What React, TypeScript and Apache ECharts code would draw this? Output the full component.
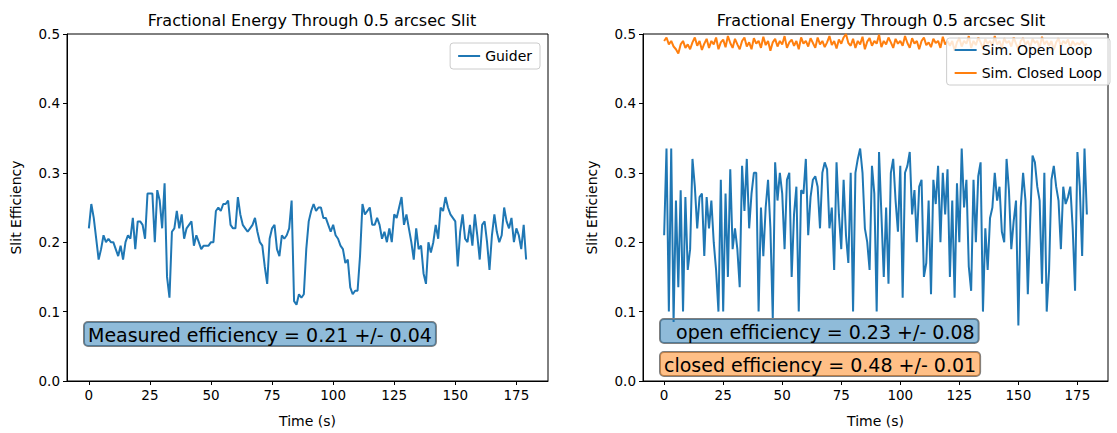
import React, { useEffect, useRef } from "react";
import * as echarts from "echarts";

const guider = [0.22,0.255,0.235,0.205,0.175,0.19,0.21,0.2,0.205,0.2,0.2,0.19,0.18,0.195,0.175,0.2,0.21,0.205,0.235,0.19,0.23,0.23,0.225,0.205,0.27,0.27,0.27,0.2,0.275,0.26,0.22,0.285,0.15,0.12,0.215,0.22,0.245,0.22,0.24,0.205,0.22,0.225,0.23,0.195,0.21,0.2,0.19,0.195,0.195,0.195,0.2,0.2,0.245,0.25,0.245,0.255,0.255,0.26,0.225,0.22,0.22,0.265,0.24,0.225,0.22,0.215,0.22,0.225,0.235,0.215,0.2,0.195,0.165,0.14,0.205,0.22,0.225,0.19,0.18,0.21,0.205,0.21,0.22,0.26,0.115,0.11,0.125,0.12,0.125,0.19,0.23,0.245,0.255,0.245,0.25,0.25,0.235,0.235,0.225,0.215,0.225,0.21,0.205,0.195,0.19,0.17,0.175,0.135,0.125,0.13,0.13,0.18,0.255,0.24,0.245,0.25,0.225,0.225,0.235,0.225,0.205,0.215,0.2,0.22,0.2,0.24,0.235,0.25,0.265,0.225,0.24,0.22,0.2,0.175,0.22,0.19,0.195,0.155,0.14,0.2,0.185,0.2,0.225,0.205,0.25,0.245,0.265,0.25,0.24,0.235,0.23,0.165,0.215,0.24,0.205,0.2,0.225,0.195,0.24,0.21,0.175,0.225,0.23,0.2,0.16,0.21,0.24,0.215,0.2,0.21,0.25,0.23,0.22,0.235,0.2,0.22,0.21,0.19,0.225,0.175];

const openLoop = [0.21,0.335,0.1,0.335,0.085,0.26,0.135,0.275,0.1,0.265,0.16,0.19,0.32,0.28,0.22,0.265,0.27,0.18,0.265,0.22,0.26,0.2,0.16,0.1,0.29,0.1,0.27,0.15,0.305,0.19,0.22,0.19,0.135,0.31,0.245,0.32,0.22,0.27,0.3,0.3,0.1,0.25,0.18,0.25,0.29,0.22,0.09,0.315,0.26,0.3,0.27,0.19,0.29,0.3,0.15,0.24,0.28,0.1,0.275,0.27,0.32,0.21,0.265,0.29,0.295,0.28,0.22,0.3,0.315,0.305,0.22,0.25,0.16,0.315,0.24,0.19,0.29,0.21,0.17,0.3,0.1,0.3,0.32,0.335,0.3,0.22,0.2,0.16,0.31,0.27,0.1,0.33,0.24,0.15,0.25,0.14,0.3,0.32,0.26,0.215,0.31,0.12,0.3,0.31,0.33,0.24,0.275,0.2,0.28,0.29,0.15,0.17,0.26,0.125,0.29,0.255,0.31,0.2,0.3,0.24,0.305,0.15,0.26,0.12,0.285,0.2,0.335,0.25,0.29,0.165,0.13,0.29,0.2,0.295,0.315,0.1,0.22,0.16,0.235,0.25,0.3,0.26,0.28,0.215,0.2,0.32,0.275,0.19,0.23,0.26,0.08,0.25,0.3,0.26,0.125,0.23,0.325,0.315,0.28,0.26,0.14,0.3,0.1,0.16,0.29,0.31,0.28,0.26,0.19,0.28,0.255,0.265,0.28,0.22,0.13,0.33,0.28,0.18,0.335,0.24,0.15,0.3,0.14];

const closedLoop = [0.49,0.495,0.485,0.49,0.482,0.478,0.472,0.485,0.49,0.48,0.485,0.478,0.488,0.495,0.483,0.49,0.477,0.486,0.493,0.48,0.49,0.485,0.495,0.478,0.488,0.492,0.481,0.497,0.487,0.48,0.493,0.485,0.478,0.49,0.495,0.482,0.488,0.478,0.494,0.486,0.49,0.48,0.496,0.484,0.49,0.476,0.488,0.493,0.482,0.49,0.485,0.497,0.48,0.488,0.492,0.483,0.49,0.478,0.495,0.486,0.49,0.482,0.494,0.487,0.48,0.495,0.485,0.49,0.481,0.488,0.497,0.484,0.49,0.479,0.492,0.486,0.495,0.5,0.487,0.483,0.493,0.48,0.49,0.485,0.496,0.478,0.489,0.494,0.483,0.49,0.486,0.499,0.481,0.49,0.485,0.495,0.488,0.48,0.493,0.486,0.49,0.483,0.497,0.487,0.48,0.494,0.486,0.49,0.478,0.49,0.495,0.484,0.488,0.481,0.493,0.487,0.49,0.48,0.496,0.485,0.49,0.483,0.49,0.476,0.488,0.494,0.482,0.49,0.486,0.497,0.48,0.49,0.484,0.495,0.488,0.479,0.493,0.486,0.49,0.483,0.497,0.485,0.49,0.48,0.494,0.487,0.49,0.482,0.495,0.486,0.478,0.49,0.494,0.484,0.49,0.481,0.493,0.487,0.49,0.48,0.496,0.485,0.49,0.483,0.49,0.477,0.488,0.494,0.482,0.49,0.486,0.492,0.48,0.49,0.484,0.487,0.485,0.49,0.483,0.486];

const xTicks = [0, 25, 50, 75, 100, 125, 150, 175];
const titleText = "Fractional Energy Through 0.5 arcsec Slit";

const toPairs = (a: number[]) => a.slice(0, 180).map((v, i) => [i, v]);
const F = "DejaVu Sans";

export default function App() {
  const ref = useRef<HTMLDivElement>(null);
  useEffect(() => {
    const chart = echarts.init(ref.current!, null, { renderer: "svg" });
    const xAxis = (gi: number) => ({
      type: "value", gridIndex: gi, min: -8.95, max: 187.95,
      name: "Time (s)", nameLocation: "middle", nameGap: 33,
      nameTextStyle: { fontFamily: F, fontSize: 14, color: "#000" },
      splitLine: { show: false },
      axisLine: { onZero: false, lineStyle: { color: "#000" } },
      axisTick: { customValues: xTicks, length: 4, lineStyle: { color: "#000" } },
      axisLabel: { customValues: xTicks, fontFamily: F, fontSize: 13.5, color: "#000", margin: 7 },
    });
    const yAxis = (gi: number) => ({
      type: "value", gridIndex: gi, min: 0, max: 0.5, interval: 0.1,
      name: "Slit Efficiency", nameLocation: "middle", nameGap: 44,
      nameTextStyle: { fontFamily: F, fontSize: 14, color: "#000" },
      splitLine: { show: false },
      axisLine: { show: true, onZero: false, lineStyle: { color: "#000" } },
      axisTick: { show: true, length: 4, lineStyle: { color: "#000" } },
      axisLabel: { fontFamily: F, fontSize: 13.5, color: "#000", margin: 7, formatter: (v: number) => v.toFixed(1) },
    });
    const frame = (l: number, r: number) => ({ left: l, right: r, top: 34, bottom: 49, show: true, borderColor: "#000", borderWidth: 1, backgroundColor: "transparent" });
    const ts = { fontFamily: F, fontSize: 16, color: "#000", fontWeight: "normal" as const };
    const box = (x: number, y: number, text: string, fill: string) => ({
      type: "text", x, y, z: 100,
      style: { text, fontFamily: F, fontSize: 19, fill: "#000", backgroundColor: fill, borderColor: "#7f7f7f", borderWidth: 1, borderRadius: 4, padding: [3, 4, 2, 4] },
    });
    chart.setOption({
      animation: false,
      title: [
        { text: titleText, left: 307, top: 7, textAlign: "center", textStyle: ts },
        { text: titleText, left: 876, top: 7, textAlign: "center", textStyle: ts },
      ],
      grid: [frame(67, 569), frame(643, 9)],
      xAxis: [xAxis(0), xAxis(1)],
      yAxis: [yAxis(0), yAxis(1)],
      legend: [
        { data: ["Guider"], right: 577, top: 43, orient: "vertical", icon: "rect", itemWidth: 22, itemHeight: 2, itemGap: 6,
          textStyle: { fontFamily: F, fontSize: 14, color: "#000" }, borderColor: "#ccc", borderWidth: 1, borderRadius: 3, padding: [6, 8, 6, 8], backgroundColor: "rgba(255,255,255,0.8)" },
        { data: ["Sim. Open Loop", "Sim. Closed Loop"], right: 7, top: 38, orient: "vertical", icon: "rect", itemWidth: 22, itemHeight: 2, itemGap: 9,
          textStyle: { fontFamily: F, fontSize: 14, color: "#000" }, borderColor: "#ccc", borderWidth: 1, borderRadius: 3, padding: [5, 8, 5, 8], backgroundColor: "rgba(255,255,255,0.8)", z: 20 },
      ],
      series: [
        { name: "Guider", type: "line", xAxisIndex: 0, yAxisIndex: 0, data: toPairs(guider), showSymbol: false, lineStyle: { color: "#1f77b4", width: 2 }, itemStyle: { color: "#1f77b4" } },
        { name: "Sim. Open Loop", type: "line", xAxisIndex: 1, yAxisIndex: 1, data: toPairs(openLoop), showSymbol: false, lineStyle: { color: "#1f77b4", width: 2 }, itemStyle: { color: "#1f77b4" } },
        { name: "Sim. Closed Loop", type: "line", xAxisIndex: 1, yAxisIndex: 1, data: toPairs(closedLoop), showSymbol: false, lineStyle: { color: "#ff7f0e", width: 2 }, itemStyle: { color: "#ff7f0e" } },
      ],
      graphic: [
        box(84, 322, "Measured efficiency = 0.21 +/- 0.04", "rgba(31,119,180,0.5)"),
        box(660, 319, "  open efficiency = 0.23 +/- 0.08", "rgba(31,119,180,0.5)"),
        box(660, 352, "closed efficiency = 0.48 +/- 0.01", "rgba(255,127,14,0.5)"),
      ],
    });
    return () => chart.dispose();
  }, []);
  return <div ref={ref} style={{ width: 1117, height: 433, position: "absolute", left: 0, top: 0 }} />;
}
